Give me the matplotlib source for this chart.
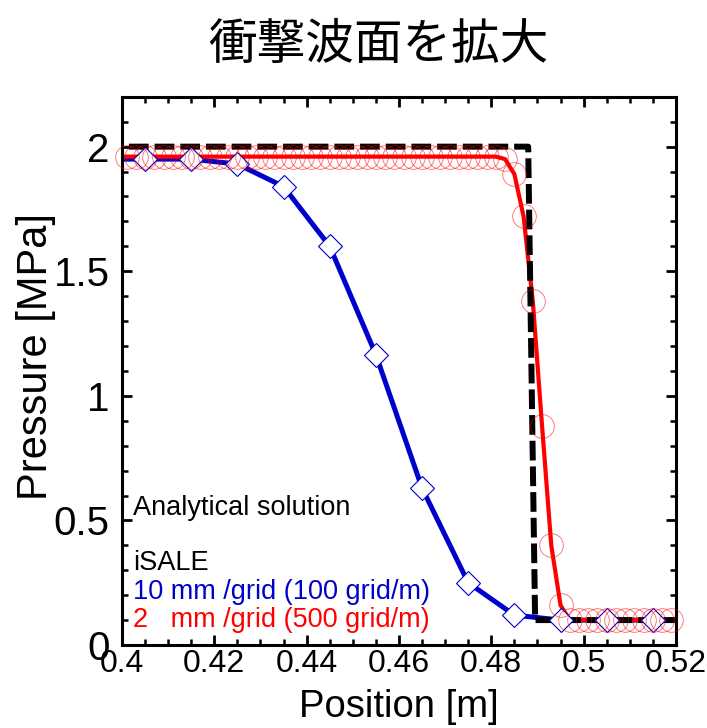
#!/usr/bin/env python3
"""Shock front close-up: analytical solution vs. iSALE at two resolutions."""

import numpy as np
import matplotlib
matplotlib.use("Agg")
import matplotlib.pyplot as plt
from matplotlib.ticker import MultipleLocator

matplotlib.rcParams.update({
    "font.family": ["Liberation Sans", "DejaVu Sans"],
    "xtick.direction": "in",
    "ytick.direction": "in",
    "xtick.top": True,
    "ytick.right": True,
})

# --- data ---
# analytical step
ana_x = [0.4015, 0.488, 0.4895, 0.52]
ana_y = [2.0, 2.0, 0.1, 0.1]

# iSALE 10 mm/grid (cell centres); outer points only extend the line to the frame
blue_x = [0.395, 0.405, 0.415, 0.425, 0.435, 0.445, 0.455, 0.465, 0.475,
          0.485, 0.495, 0.505, 0.515, 0.525]
blue_y = [1.95, 1.95, 1.95, 1.93, 1.84, 1.60, 1.165, 0.63, 0.25,
          0.12, 0.10, 0.10, 0.10, 0.10]

# iSALE 2 mm/grid
red_x = [0.399, 0.401, 0.403, 0.405, 0.407, 0.409, 0.411, 0.413, 0.415, 0.417,
         0.419, 0.421, 0.423, 0.425, 0.427, 0.429, 0.431, 0.433, 0.435, 0.437,
         0.439, 0.441, 0.443, 0.445, 0.447, 0.449, 0.451, 0.453, 0.455, 0.457,
         0.459, 0.461, 0.463, 0.465, 0.467, 0.469, 0.471, 0.473, 0.475, 0.477,
         0.479, 0.481, 0.483, 0.485, 0.487, 0.489, 0.491, 0.493, 0.495, 0.497,
         0.499, 0.501, 0.503, 0.505, 0.507, 0.509, 0.511, 0.513, 0.515, 0.517,
         0.519, 0.521]
red_y = [1.96] * 42 + [1.95, 1.89, 1.72, 1.38, 0.88, 0.40, 0.16, 0.10] + [0.10] * 12

BLUE = "#0000cc"
RED = "#ff0000"

fig = plt.figure(figsize=(7.07, 7.28), dpi=100)
ax = fig.add_axes([0.1726, 0.114, 0.7834, 0.753])

ax.plot(blue_x, blue_y, color=BLUE, lw=3.6, zorder=2, solid_joinstyle="round")
ax.plot(red_x, red_y, color=RED, lw=3.0, zorder=2.5, solid_joinstyle="round")
ax.plot(ana_x, ana_y, color="black", lw=4.3, dashes=(3.3, 1.0), zorder=3)

bx = np.array(blue_x)
by = np.array(blue_y)
m = (bx >= 0.4) & (bx <= 0.52)
ax.plot(bx[m], by[m], ls="none", marker="D", ms=12, mfc="white",
        mec=BLUE, mew=0.8, zorder=4, clip_on=False)

rx = np.array(red_x)
ry = np.array(red_y)
m = (rx >= 0.4) & (rx <= 0.52)
ax.plot(rx[m], ry[m], ls="none", marker="o", ms=17, mfc="none",
        mec=RED, mew=0.6, alpha=0.6, zorder=5, clip_on=False)

ax.set_xlim(0.4, 0.52)
ax.set_ylim(0, 2.2)
ax.xaxis.set_minor_locator(MultipleLocator(0.005))
ax.yaxis.set_minor_locator(MultipleLocator(0.1))
ax.set_xticks([0.4, 0.42, 0.44, 0.46, 0.48, 0.5, 0.52],
              ["0.4", "0.42", "0.44", "0.46", "0.48", "0.5", "0.52"])
ax.set_yticks([0, 0.5, 1, 1.5, 2], ["0", "0.5", "1", "1.5", "2"])

for s in ax.spines.values():
    s.set_linewidth(2.2)
ax.tick_params(which="major", length=7.5, width=2.0)
ax.tick_params(which="minor", length=4.5, width=1.8)
ax.tick_params(axis="x", which="major", labelsize=23, pad=3)
ax.tick_params(axis="y", which="major", labelsize=29, pad=9)

ax.set_xlabel("Position [m]", fontsize=27.5, labelpad=7)
ax.set_ylabel("Pressure [MPa]", fontsize=30, labelpad=2)
ax.yaxis.set_label_coords(-0.12, 0.526)

txt = dict(transform=ax.transAxes, fontsize=19.5, ha="left", va="center")
ax.text(0.02, (645 - 508) / 548, "Analytical solution", color="black", **txt)
ax.text(0.02, (645 - 563) / 548, "iSALE", color="black", **txt)
ax.text(0.02, (645 - 592) / 548, "10 mm /grid (100 grid/m)", color=BLUE, **txt)
ax.text(0.02, (645 - 620) / 548, "2   mm /grid (500 grid/m)", color=RED, **txt)

fig.text(378 / 707, 1 - 45 / 728, "衝撃波面を拡大", ha="center", va="center",
         fontsize=35, family=["Noto Sans CJK JP", "DejaVu Sans"])

fig.savefig("out.png", dpi=100)
